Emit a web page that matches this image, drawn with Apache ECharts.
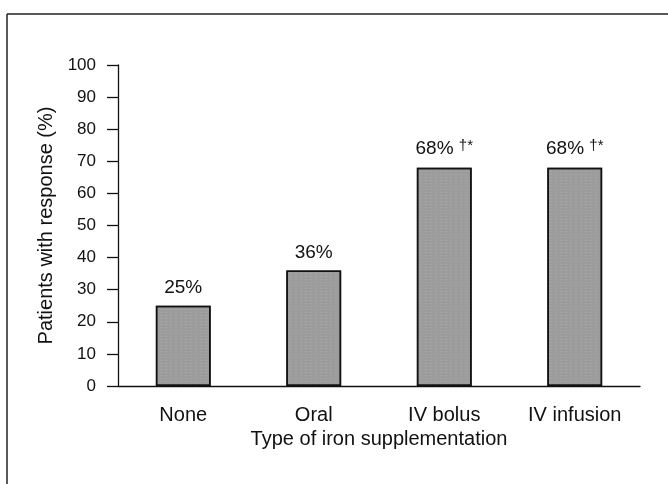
<!DOCTYPE html>
<html>
<head>
<meta charset="utf-8">
<script src="https://cdn.jsdelivr.net/npm/echarts@6/dist/echarts.min.js"></script>
<style>
  html, body { margin: 0; padding: 0; background: #fff; }
  #chart { width: 668px; height: 484px; }
</style>
</head>
<body>
<div id="chart"></div>
<script>
// data
var categories = ['None', 'Oral', 'IV bolus', 'IV infusion'];
var responseRate = [25, 36, 68, 68];
var marks = ['', '', '†*', '†*'];

var yTitle = 'Patients with response (%)';
var xTitle = 'Type of iron supplementation';

var chart = echarts.init(document.getElementById('chart'));
var font = 'Liberation Sans, Arial, sans-serif';

var option = {
  animation: false,
  backgroundColor: '#fff',
  textStyle: { fontFamily: font },
  grid: { left: 118, right: 28, top: 65, bottom: 98 },
  xAxis: {
    type: 'category',
    data: categories,
    name: xTitle,
    nameLocation: 'middle',
    nameGap: 42,
    nameTextStyle: { fontSize: 20, color: '#111', fontFamily: font },
    axisLine: { lineStyle: { color: '#111', width: 1.3 } },
    axisTick: { length: 10, lineStyle: { color: '#111', width: 1.3 } },
    axisLabel: { fontSize: 20, color: '#111', margin: 19, fontFamily: font }
  },
  yAxis: {
    type: 'value',
    min: 0,
    max: 100,
    interval: 10,
    name: yTitle,
    nameLocation: 'middle',
    nameGap: 58,
    nameTextStyle: { fontSize: 20, color: '#111', fontFamily: font },
    axisLine: { show: true, lineStyle: { color: '#111', width: 1.3 } },
    axisTick: { show: true, length: 11, lineStyle: { color: '#111', width: 1.3 } },
    axisLabel: { fontSize: 17, color: '#111', margin: 22, fontFamily: font },
    splitLine: { show: false }
  },
  series: [{
    type: 'bar',
    data: responseRate,
    barWidth: '42%',
    itemStyle: {
      color: '#9c9c9c',
      borderColor: '#111',
      borderWidth: 1.5,
      decal: {
        symbol: 'rect',
        symbolSize: 0.5,
        color: 'rgba(255,255,255,0.4)',
        dashArrayX: [2, 3],
        dashArrayY: [1, 2],
        rotation: 0
      }
    },
    label: {
      show: true,
      position: 'top',
      distance: 8,
      formatter: function (p) {
        var m = marks[p.dataIndex];
        return p.value + '%' + (m ? ' {sup|' + m + '}' : '');
      },
      fontSize: 19,
      color: '#111',
      fontFamily: font,
      rich: {
        sup: { fontSize: 15, color: '#111', verticalAlign: 'top', padding: [0, 0, 6, 0], fontFamily: font }
      }
    }
  }],
  graphic: [
    // frame lines of the original figure panel
    { type: 'line', shape: { x1: 7, y1: 14, x2: 668, y2: 14 }, style: { stroke: '#222', lineWidth: 1.5 } },
    { type: 'line', shape: { x1: 7, y1: 14, x2: 7, y2: 484 }, style: { stroke: '#222', lineWidth: 1.5 } }
  ]
};

chart.setOption(option);
</script>
</body>
</html>
